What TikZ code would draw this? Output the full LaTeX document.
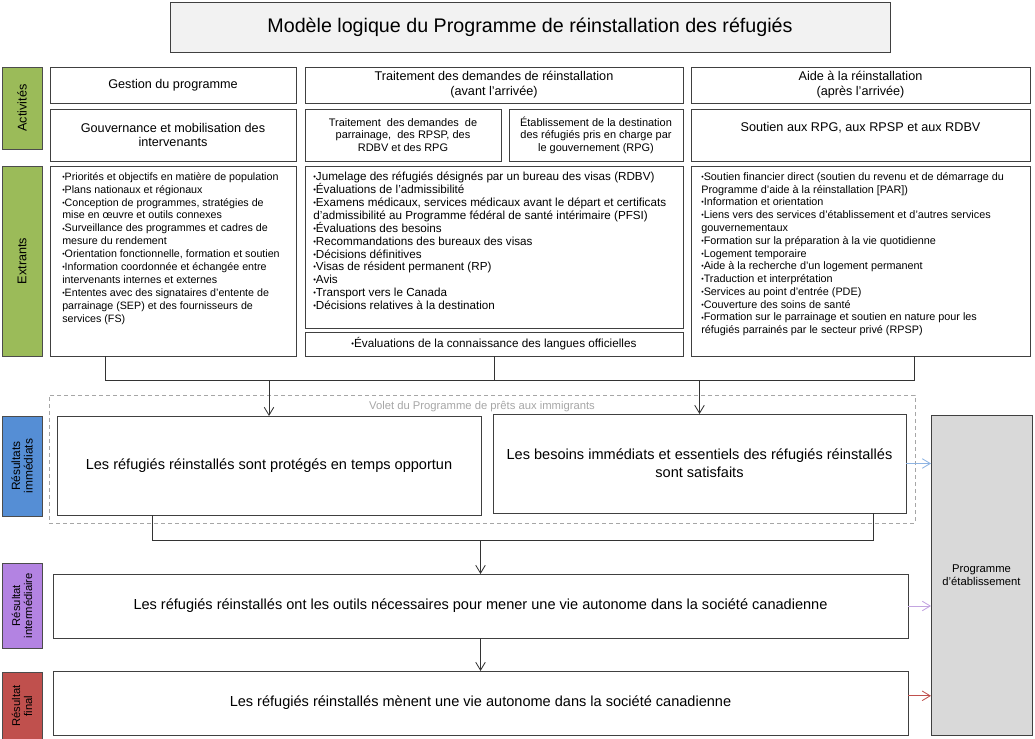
\documentclass[tikz,border=0pt]{standalone}
\usepackage{fontspec}
\setmainfont{Liberation Sans}
\usetikzlibrary{positioning,arrows.meta}
\definecolor{actgreen}{HTML}{9BBB59}
\definecolor{immblue}{HTML}{558ED5}
\definecolor{intpurple}{HTML}{B383E2}
\definecolor{finred}{HTML}{C0504D}
\definecolor{titlegray}{HTML}{F2F2F2}
\definecolor{etabgray}{HTML}{D9D9D9}
\definecolor{voletgray}{HTML}{A6A6A6}
\definecolor{arrblue}{HTML}{8EB4E3}
\definecolor{arrpurple}{HTML}{C3A5E0}
\newcommand\puce{\raisebox{.15ex}{\scalebox{.65}{\textbullet}}}

\begin{document}
\begin{tikzpicture}[box/.style={draw=black!75, line width=0.6pt, fill=white, outer sep=0pt, inner sep=1pt, align=center, font=\fontsize{9}{10.5}\selectfont}, subbox/.style={box, font=\fontsize{7.8}{8.9}\selectfont}, frame/.style={draw=black!75, line width=0.6pt, fill=white, outer sep=0pt}, bullets/.style={align=left, inner sep=0pt, font=\fontsize{7.6}{9.2}\selectfont}, outcome/.style={box, font=\fontsize{10.35}{12.8}\selectfont}, side/.style={draw=black!70, line width=0.6pt, rotate=90, outer sep=0pt, inner sep=1pt, minimum height=1cm, align=center, font=\fontsize{9}{9.5}\selectfont}, link/.style={line width=0.6pt, black!80}, arr/.style={link, -{Straight Barb[length=2mm, width=2.4mm]}}]
\useasboundingbox (0,0) rectangle (25.875,-18.45);
\node[box, fill=titlegray, minimum width=18cm, minimum height=1.25cm, font=\fontsize{14}{16}\selectfont] (title) at (13.25,-0.675) {Modèle logique du Programme de réinstallation des réfugiés};
\node[side, fill=actgreen, minimum width=2.05cm] (activites) at (0.55,-2.7) {Activités};
\node[side, fill=actgreen, minimum width=4.75cm] (extrants) at (0.55,-6.525) {Extrants};
\node[side, fill=immblue, minimum width=2.5cm, font=\fontsize{8.5}{9}\selectfont] (immediats) at (0.55,-11.65) {Résultats\\immédiats};
\node[side, fill=intpurple, minimum width=2.125cm, font=\fontsize{8}{8.5}\selectfont] (intermediaire) at (0.55,-15.1375) {Résultat\\intermédiaire};
\node[side, fill=finred, minimum width=1.7cm, font=\fontsize{8}{8.5}\selectfont] (final) at (0.55,-17.65) {Résultat\\final};
\node[box, anchor=north west, minimum width=6.15cm, minimum height=0.9cm] (gestion) at (1.25,-1.675) {Gestion du programme};
\node[box, right=0.225cm of gestion, minimum width=9.45cm, minimum height=0.9cm] (traitement) {Traitement des demandes de réinstallation\\(avant l’arrivée)};
\node[box, right=0.2cm of traitement, minimum width=8.475cm, minimum height=0.9cm] (aide) {Aide à la réinstallation\\(après l’arrivée)};
\node[box, below=0.15cm of gestion, minimum width=6.15cm, minimum height=1.3cm] (gouvernance) {Gouvernance et mobilisation des\\intervenants};
\node[subbox, below=0.15cm of traitement.south west, anchor=north west, minimum width=4.9cm, minimum height=1.3cm] (parrainage) {Traitement\ \ des demandes\ \ de\\parrainage,\ \ des RPSP, des\\RDBV et des RPG};
\node[subbox, below=0.15cm of traitement.south east, anchor=north east, minimum width=4.35cm, minimum height=1.3cm] (destination) {Établissement de la destination\\des réfugiés pris en charge par\\le gouvernement (RPG)};
\node[box, below=0.15cm of aide, minimum width=8.475cm, minimum height=1.3cm] (soutien) {\raisebox{4mm}{Soutien aux RPG, aux RPSP et aux RDBV}};
\node[frame, below=0.125cm of gouvernance, minimum width=6.15cm, minimum height=4.75cm] (extGestion) {};
\node[frame, below=0.125cm of parrainage.south west, anchor=north west, minimum width=9.45cm, minimum height=4.05cm] (extTraitement) {};
\node[subbox, below=0.1cm of extTraitement, minimum width=9.45cm, minimum height=0.6cm, font=\fontsize{8.35}{9}\selectfont] (langues) {\puce Évaluations de la connaissance des langues officielles};
\node[frame, below=0.125cm of soutien, minimum width=8.475cm, minimum height=4.75cm] (extAide) {};
\node[bullets, anchor=north west] (txtGestion) at ([xshift=0.3cm, yshift=-0.15cm]extGestion.north west) {\puce Priorités et objectifs en matière de population\\\puce Plans nationaux et régionaux\\\puce Conception de programmes, stratégies de\\mise en œuvre et outils connexes\\\puce Surveillance des programmes et cadres de\\mesure du rendement\\\puce Orientation fonctionnelle, formation et soutien\\\puce Information coordonnée et échangée entre\\intervenants internes et externes\\\puce Ententes avec des signataires d’entente de\\parrainage (SEP) et des fournisseurs de\\services (FS)};
\node[bullets, anchor=north west, font=\fontsize{8.3}{9.15}\selectfont] (txtTraitement) at ([xshift=0.2cm, yshift=-0.15cm]extTraitement.north west) {\puce Jumelage des réfugiés désignés par un bureau des visas (RDBV)\\\puce Évaluations de l’admissibilité\\\puce Examens médicaux, services médicaux avant le départ et certificats\\d’admissibilité au Programme fédéral de santé intérimaire (PFSI)\\\puce Évaluations des besoins\\\puce Recommandations des bureaux des visas\\\puce Décisions définitives\\\puce Visas de résident permanent (RP)\\\puce Avis\\\puce Transport vers le Canada\\\puce Décisions relatives à la destination};
\node[bullets, anchor=north west, font=\fontsize{7.7}{9.1}\selectfont] (txtAide) at ([xshift=0.25cm, yshift=-0.15cm]extAide.north west) {\puce Soutien financier direct (soutien du revenu et de démarrage du\\Programme d’aide à la réinstallation [PAR])\\\puce Information et orientation\\\puce Liens vers des services d’établissement et d’autres services\\gouvernementaux\\\puce Formation sur la préparation à la vie quotidienne\\\puce Logement temporaire\\\puce Aide à la recherche d’un logement permanent\\\puce Traduction et interprétation\\\puce Services au point d’entrée (PDE)\\\puce Couverture des soins de santé\\\puce Formation sur le parrainage et soutien en nature pour les\\réfugiés parrainés par le secteur privé (RPSP)};
\node[draw=voletgray, dashed, dash pattern=on 1mm off 0.75mm, line width=0.6pt, minimum width=21.65cm, minimum height=3.2cm, outer sep=0pt] (volet) at (12.05,-11.475) {};
\node[text=voletgray, font=\fontsize{8}{9}\selectfont, inner sep=0pt] (voletlabel) at (12.05,-10.175) {Volet du Programme de prêts aux immigrants};
\node[outcome, anchor=north west, minimum width=10.6cm, minimum height=2.475cm] (protection) at (1.425,-10.4) {Les réfugiés réinstallés sont protégés en temps opportun};
\node[outcome, anchor=north west, minimum width=10.325cm, minimum height=2.475cm] (besoins) at (12.325,-10.35) {Les besoins immédiats et essentiels des réfugiés réinstallés\\sont satisfaits};
\node[outcome, anchor=north west, minimum width=21.375cm, minimum height=1.6cm] (outils) at (1.325,-14.35) {Les réfugiés réinstallés ont les outils nécessaires pour mener une vie autonome dans la société canadienne};
\node[outcome, below=0.825cm of outils, minimum width=21.375cm, minimum height=1.6cm] (autonomie) {Les réfugiés réinstallés mènent une vie autonome dans la société canadienne};
\node[box, fill=etabgray, minimum width=2.525cm, minimum height=8cm, font=\fontsize{8}{9.5}\selectfont] (etablissement) at (24.5375,-14.375) {Programme\\d’établissement};
\coordinate (busL) at (2.625,-9.5);
\coordinate (busR) at (22.85,-9.5);
\coordinate (bus2L) at (3.8,-13.5);
\coordinate (bus2R) at (21.825,-13.5);
\draw[link] (extGestion.south -| busL) -- (busL) -- (busR) -- (extAide.south -| busR);
\draw[link] (langues.south) -- (langues.south |- busL);
\draw[arr] (protection.north |- busL) -- (protection.north);
\draw[arr] (besoins.north |- busL) -- (besoins.north);
\draw[link] (protection.south -| bus2L) -- (bus2L) -- (bus2R) -- (besoins.south -| bus2R);
\draw[arr] (outils.north |- bus2L) -- (outils.north);
\draw[arr] (outils.south) -- (autonomie.north);
\draw[arr, arrblue] (besoins.east) -- (besoins.east -| etablissement.west);
\draw[arr, arrpurple] (outils.east) -- (outils.east -| etablissement.west);
\draw[arr, finred] ([yshift=0.18cm]autonomie.east) -- ([yshift=0.18cm]autonomie.east -| etablissement.west);
\end{tikzpicture}
\end{document}
